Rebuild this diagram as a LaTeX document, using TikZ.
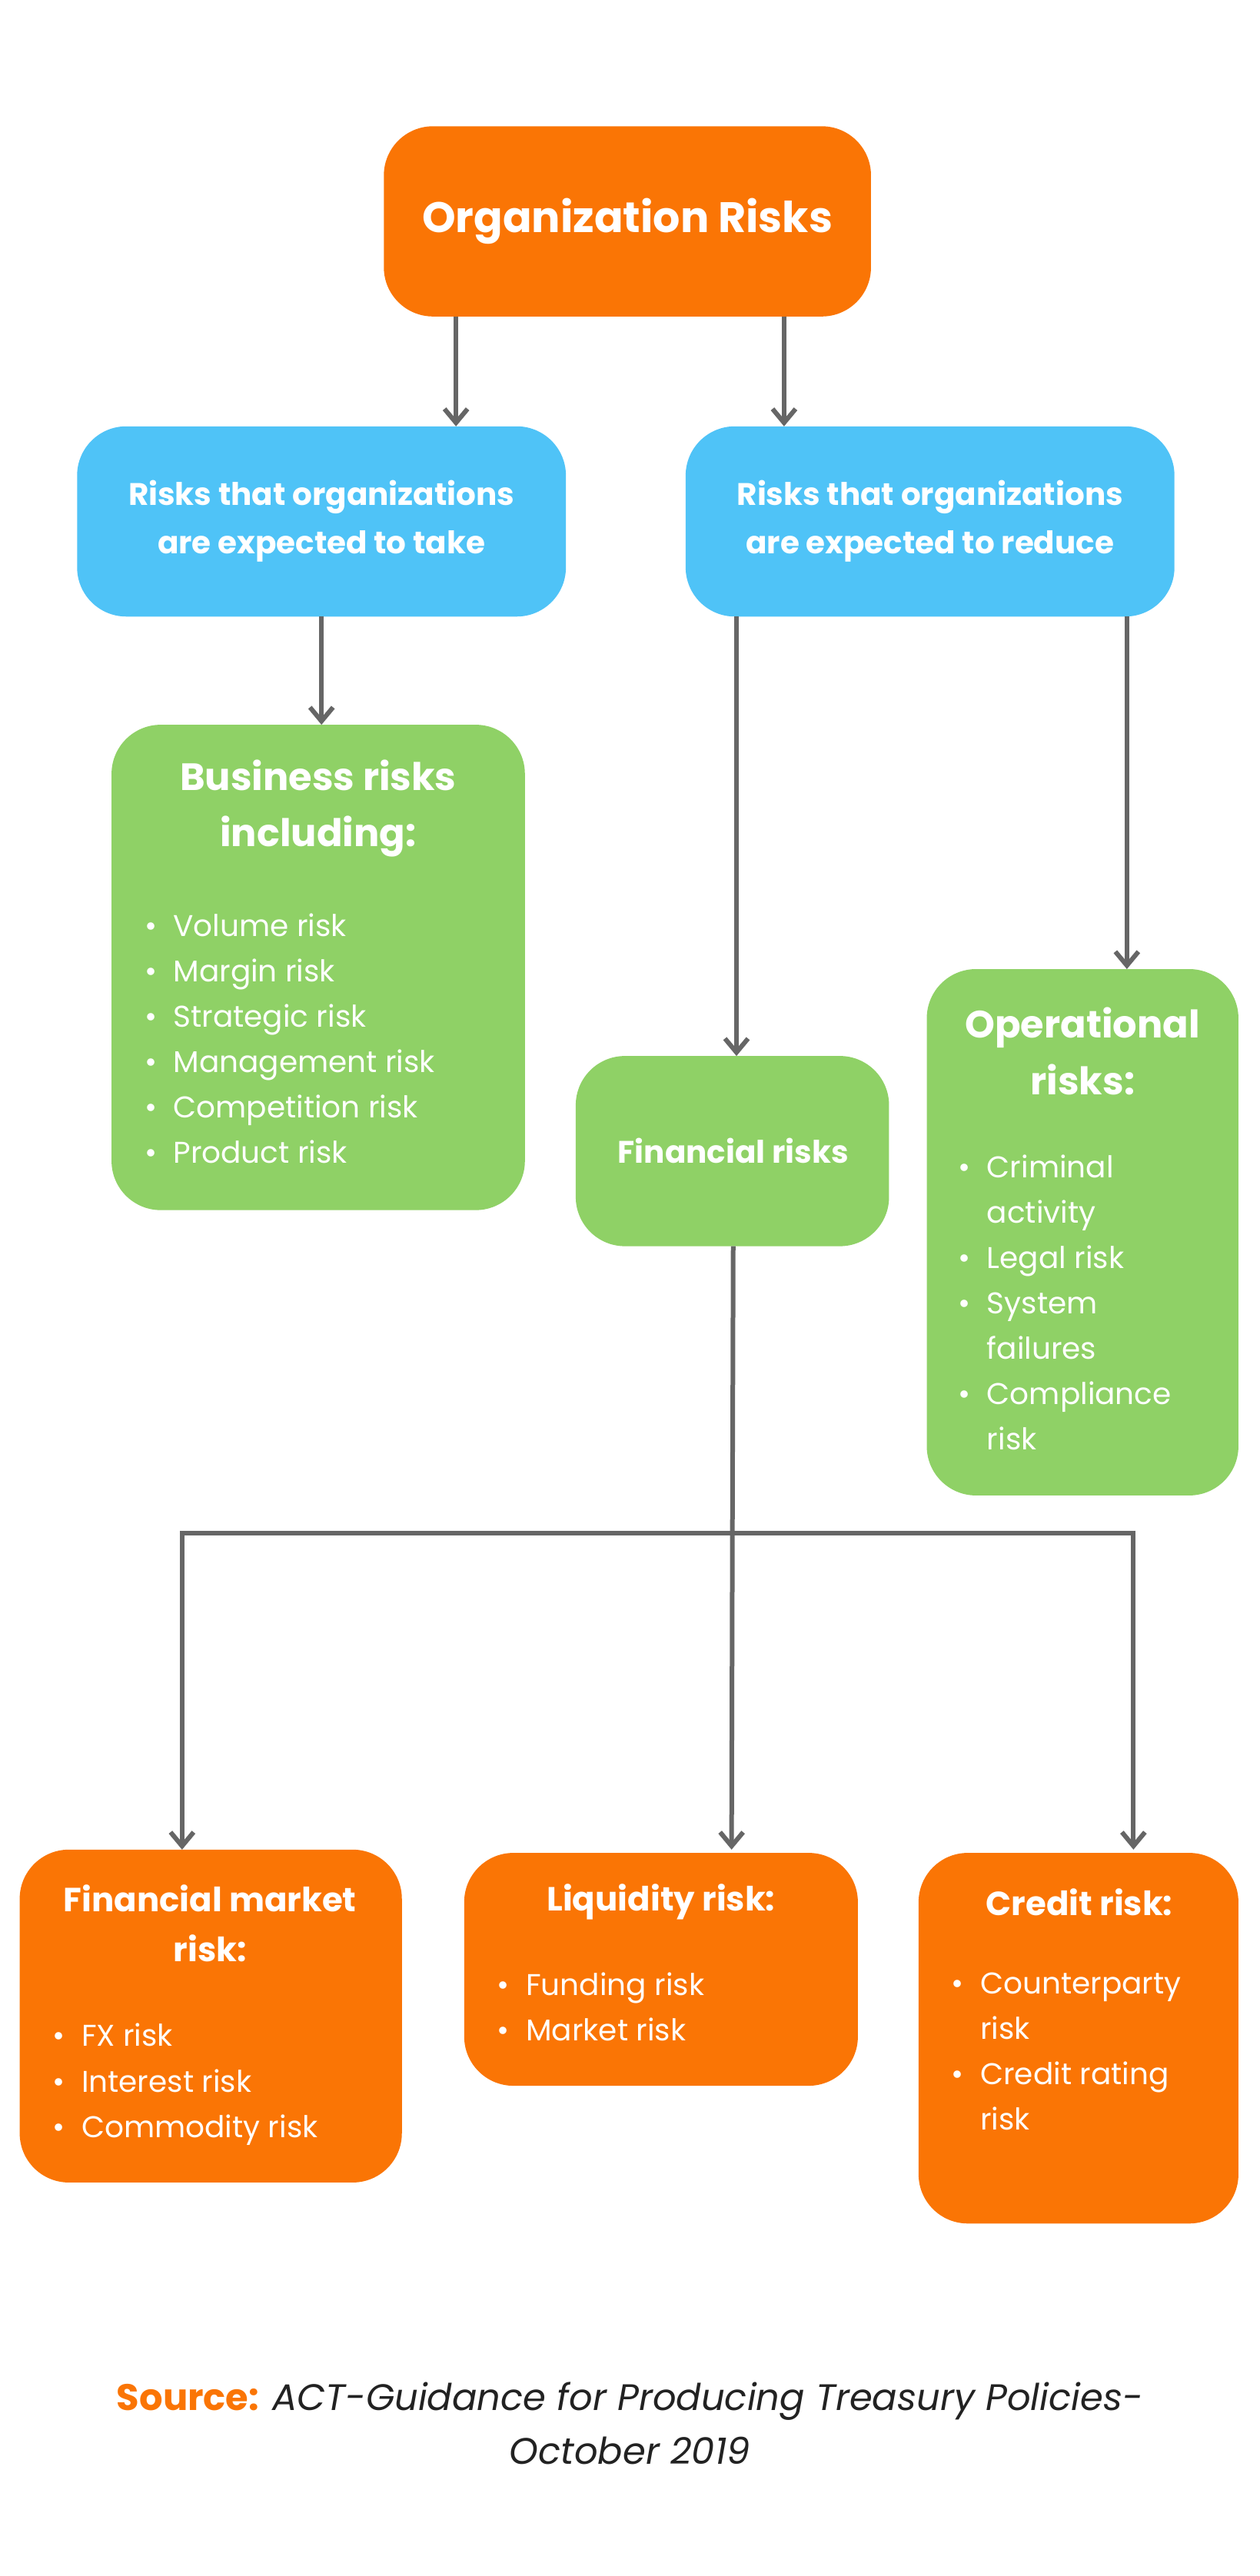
\documentclass[tikz,border=0pt]{standalone}
\usepackage{fontspec}
\setmainfont{Poppins}
\usetikzlibrary{arrows.meta}
\definecolor{org}{HTML}{FA7505}
\definecolor{blu}{HTML}{4FC3F7}
\definecolor{grn}{HTML}{8FD166}
\definecolor{arr}{HTML}{666666}
\definecolor{src}{HTML}{222222}
\tikzset{
 box/.style={rounded corners=1.5cm},
 ob/.style={box,fill=org},
 bb/.style={box,fill=blu},
 gb/.style={box,fill=grn},
 ttl/.style={text=white,font=\bfseries\fontsize{33}{49}\selectfont,align=center,inner sep=0},
 sub/.style={text=white,font=\bfseries\fontsize{27}{42}\selectfont,align=center,inner sep=0},
 lst/.style={text=white,font=\fontsize{26}{39.4}\selectfont,anchor=north west,inner sep=0,align=left},
 con/.style={draw=arr,line width=4pt,-{Triangle[length=16pt,width=16pt,open]}},
 ln/.style={draw=arr,line width=4pt},
 ar/.style={draw=arr,line width=4pt,-{Straight Barb[length=12pt,width=20pt,line width=4pt]}},
}
\newcommand{\bl}{\makebox[25pt][l]{\textbullet}}
\newcommand{\ind}{\makebox[25pt][l]{}}
\begin{document}
\begin{tikzpicture}[x=0.05cm,y=-0.05cm]
\useasboundingbox[fill=white] (0,0) rectangle (768,1571);
\path[ob] (234,77) rectangle (531,193);
\node[ttl,font=\bfseries\fontsize{37}{44}\selectfont] (org) at (382.5,135) {Organization Risks};
\coordinate (o1) at (278,193); \coordinate (o2) at (478,193);
\path[bb] (47,260) rectangle (345,376);
\node[sub] (bl) at (196,318) {Risks that organizations\\are expected to take};
\path[bb] (418,260) rectangle (716,376);
\node[sub] (br) at (567,318) {Risks that organizations\\are expected to reduce};
\coordinate (bl1) at (278,260); \coordinate (br1) at (478,260);
\draw[ar] (o1) -- (bl1);
\draw[ar] (o2) -- (br1);
% business
\path[gb] (68,442) rectangle (320,738);
\node[ttl] (bus) at (194,493) {Business risks\\including:};
\node[lst] (busl) at (88,557) {\bl Volume risk\\\bl Margin risk\\\bl Strategic risk\\\bl Management risk\\\bl Competition risk\\\bl Product risk};
\draw[ar] (196,376) coordinate (a1) -- (196,442) coordinate (a2);
% financial
\path[gb] (351,644) rectangle (542,760);
\node[sub] (fin) at (447,702) {Financial risks};
\draw[ar] (449,376) coordinate (a3) -- (449,644) coordinate (a4);
% operational
\path[gb] (565,591) rectangle (755,912);
\node[ttl] (op) at (660,641) {Operational\\risks:};
\node[lst] (opl) at (584,704) {\bl Criminal\\\ind activity\\\bl Legal risk\\\bl System\\\ind failures\\\bl Compliance\\\ind risk};
\draw[ar] (687,376) coordinate (a5) -- (687,591) coordinate (a6);
% tree
\coordinate (f0) at (447,760);
\coordinate (j) at (446.5,935);
\coordinate (jl) at (111,935);
\coordinate (jr) at (691,935);
\draw[ln] (f0) -- (j);
\draw[ln,line cap=rect] (jl) -- (jr);
\draw[ar] (jl) -- (111,1128) coordinate (fm);
\draw[ar] (j) -- (446,1128) coordinate (lq);
\draw[ar] (jr) -- (691,1128) coordinate (cr);
% bottom boxes
\path[ob] (12,1128) rectangle (245,1331);
\node[sub,font=\bfseries\fontsize{29}{43}\selectfont] (fmt) at (128,1173) {Financial market\\risk:};
\node[lst] (fml) at (32,1234) {\bl FX risk\\\bl Interest risk\\\bl Commodity risk};
\path[ob] (283,1130) rectangle (523,1272);
\node[sub,font=\bfseries\fontsize{29}{43}\selectfont] (lqt) at (403,1160) {Liquidity risk:};
\node[lst] (lql) at (303,1203) {\bl Funding risk\\\bl Market risk};
\path[ob] (560,1130) rectangle (755,1356);
\node[sub,font=\bfseries\fontsize{29}{43}\selectfont] (crt) at (658,1160) {Credit risk:};
\node[lst] (crl) at (580,1203) {\bl Counterparty\\\ind risk\\\bl Credit rating\\\ind risk};
% source
\node[inner sep=0,font=\fontsize{32}{47}\selectfont,align=center,text=src] (source) at (384,1478) {{\color{org}\bfseries Source:} \itshape ACT-Guidance for Producing Treasury Policies-\\\itshape October 2019};
\end{tikzpicture}
\end{document}
